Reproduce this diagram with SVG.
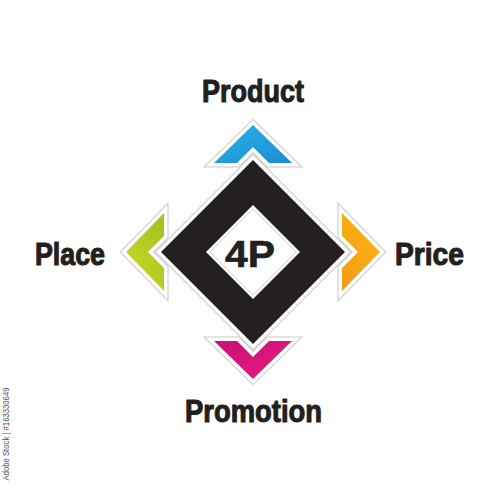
<svg xmlns="http://www.w3.org/2000/svg" width="500" height="500" viewBox="0 0 500 500">
  <defs>
    <linearGradient id="gBlue" x1="0" y1="0" x2="1" y2="1">
      <stop offset="0" stop-color="#2bb3ea"/>
      <stop offset="1" stop-color="#1b8ccd"/>
    </linearGradient>
    <linearGradient id="gOrange" x1="0" y1="0" x2="1" y2="1">
      <stop offset="0" stop-color="#fdb817"/>
      <stop offset="1" stop-color="#f39a12"/>
    </linearGradient>
    <linearGradient id="gMagenta" x1="0" y1="0" x2="1" y2="1">
      <stop offset="0" stop-color="#ea1c85"/>
      <stop offset="1" stop-color="#c90f73"/>
    </linearGradient>
    <linearGradient id="gGreen" x1="0" y1="0" x2="1" y2="1">
      <stop offset="0" stop-color="#cbdb2c"/>
      <stop offset="1" stop-color="#a3c01c"/>
    </linearGradient>
    <polygon id="chev" points="0,-127 39,-89 16,-89 0,-105 -16,-89 -39,-89"/>
  </defs>
  <style>
    .edge { fill: none; stroke: #c9c9c9; stroke-width: 9; stroke-linejoin: miter; }
    .gap { fill: #ffffff; stroke: #ffffff; stroke-width: 7; stroke-linejoin: miter; }
    .label { font-family: "Liberation Sans", Arial, sans-serif; font-weight: bold; font-size: 31px; fill: #231f20; stroke: #231f20; stroke-width: 1.1; stroke-linejoin: round; }
    .core { font-family: "Liberation Sans", Arial, sans-serif; font-weight: bold; font-size: 37px; fill: #231f20; stroke: #231f20; stroke-width: 0.6; }
    .mark { font-family: "Liberation Sans", Arial, sans-serif; font-size: 8.5px; fill: #555555; }
  </style>
  <rect width="500" height="500" fill="#ffffff"/>

  <g id="connectors">
    <g id="chevron-product" transform="translate(253,252)">
      <use href="#chev" class="edge"/>
      <use href="#chev" class="gap"/>
      <use href="#chev" fill="url(#gBlue)"/>
    </g>
    <g id="chevron-price" transform="translate(253,252) rotate(90)">
      <use href="#chev" class="edge"/>
      <use href="#chev" class="gap"/>
      <use href="#chev" fill="url(#gOrange)"/>
    </g>
    <g id="chevron-promotion" transform="translate(253,252) rotate(180)">
      <use href="#chev" class="edge"/>
      <use href="#chev" class="gap"/>
      <use href="#chev" fill="url(#gMagenta)"/>
    </g>
    <g id="chevron-place" transform="translate(253,252) rotate(270)">
      <use href="#chev" class="edge"/>
      <use href="#chev" class="gap"/>
      <use href="#chev" fill="url(#gGreen)"/>
    </g>
  </g>

  <g id="node-4p">
    <polygon points="253,160 345,252 253,344 161,252" class="edge"/>
    <polygon points="253,160 345,252 253,344 161,252" class="gap"/>
    <polygon points="253,160 345,252 253,344 161,252" fill="#231f20"/>
    <polygon points="253,205 300,252 253,299 206,252" fill="#ffffff"/>
    <polygon points="253,209 296,252 253,295 210,252" fill="none" stroke="#cfcfcf" stroke-width="1"/>
    <text x="250" y="267" class="core" text-anchor="middle" textLength="50" lengthAdjust="spacingAndGlyphs">4P</text>
  </g>

  <g id="node-product">
    <text x="202" y="102" class="label" textLength="102" lengthAdjust="spacingAndGlyphs">Product</text>
  </g>
  <g id="node-place">
    <text x="35" y="265" class="label" textLength="70" lengthAdjust="spacingAndGlyphs">Place</text>
  </g>
  <g id="node-price">
    <text x="395" y="265" class="label" textLength="69" lengthAdjust="spacingAndGlyphs">Price</text>
  </g>
  <g id="node-promotion">
    <text x="185" y="422" class="label" textLength="137" lengthAdjust="spacingAndGlyphs">Promotion</text>
  </g>

  <text class="mark" transform="translate(9,434) rotate(-90)" text-anchor="middle" textLength="93" lengthAdjust="spacingAndGlyphs">Adobe Stock | #163330649</text>
</svg>
